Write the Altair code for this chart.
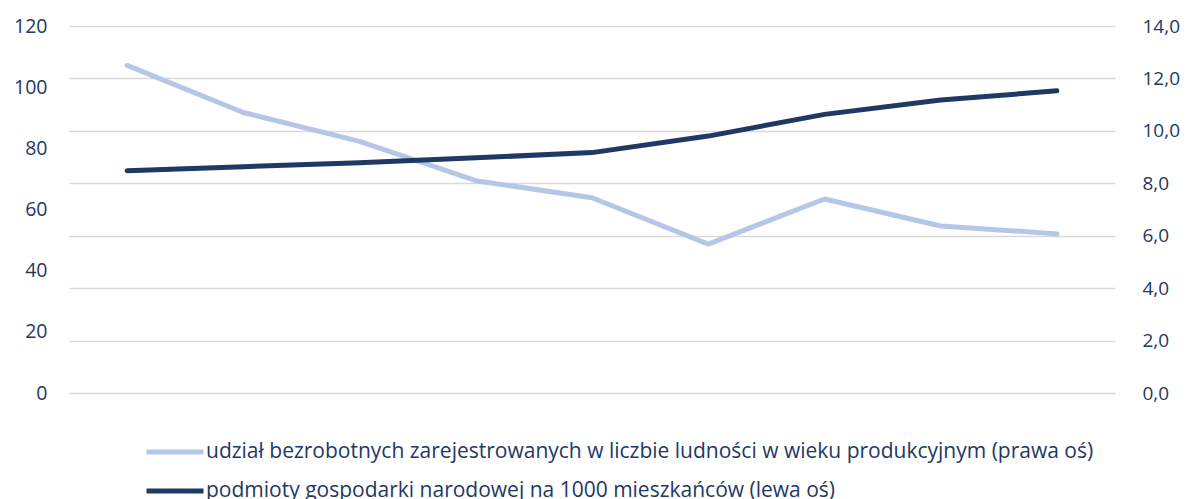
import altair as alt
import pandas as pd

categories = ["1", "2", "3", "4", "5", "6", "7", "8", "9"]
unemployed_share = [12.5, 10.7, 9.6, 8.1, 7.45, 5.68, 7.4, 6.37, 6.07]   # right axis
entities_per_1000 = [72.7, 74.0, 75.3, 76.9, 78.6, 84.0, 91.1, 95.8, 98.8]  # left axis

name_light = "udział bezrobotnych zarejestrowanych w liczbie ludności w wieku produkcyjnym (prawa oś)"
name_dark = "podmioty gospodarki narodowej na 1000 mieszkańców (lewa oś)"

left_ticks = [0, 20, 40, 60, 80, 100, 120]
right_ticks = [0, 2, 4, 6, 8, 10, 12, 14]

NAVY = "#1F3864"
LIGHT = "#B4C7E7"
FONT = "Open Sans"

df_light = pd.DataFrame({"cat": categories, "v": unemployed_share, "series": name_light})
df_dark = pd.DataFrame({"cat": categories, "v": entities_per_1000, "series": name_dark})


def legend_at(y):
    return alt.Legend(
        title=None,
        orient="none",
        legendX=75,
        legendY=y,
        symbolType="stroke",
        symbolSize=3249,
        symbolStrokeWidth=5,
        labelFont=FONT,
        labelFontSize=21,
        labelColor=NAVY,
        labelLimit=2000,
        labelOffset=0,
        padding=0,
    )


x = alt.X("cat:N", sort=categories, axis=None)

light = alt.Chart(df_light).mark_line(strokeWidth=5, strokeCap="round", strokeJoin="round").encode(
    x=x,
    y=alt.Y(
        "v:Q",
        scale=alt.Scale(domain=[0, 14], nice=False, zero=True),
        axis=alt.Axis(
            orient="right",
            values=right_ticks,
            title=None,
            domain=False,
            ticks=False,
            grid=True,
            gridColor="#D9D9D9",
            gridWidth=1.5,
            labelExpr="replace(format(datum.value, '.1f'), '.', ',')",
            labelFont=FONT,
            labelFontSize=19,
            labelColor=NAVY,
            labelPadding=27,
        ),
    ),
    color=alt.Color("series:N", scale=alt.Scale(domain=[name_light], range=[LIGHT]), legend=legend_at(395)),
)

dark = alt.Chart(df_dark).mark_line(strokeWidth=5, strokeCap="round", strokeJoin="round").encode(
    x=x,
    y=alt.Y(
        "v:Q",
        scale=alt.Scale(domain=[0, 120], nice=False, zero=True),
        axis=alt.Axis(
            orient="left",
            values=left_ticks,
            title=None,
            domain=False,
            ticks=False,
            grid=False,
            labelFont=FONT,
            labelFontSize=19.5,
            labelColor=NAVY,
            labelPadding=22,
        ),
    ),
    color=alt.Color("series:N", scale=alt.Scale(domain=[name_dark], range=[NAVY]), legend=legend_at(434)),
)

chart = (
    alt.layer(light, dark)
    .resolve_scale(y="independent", color="independent")
    .properties(
        width=1046,
        height=367,
        autosize=alt.AutoSizeParams(type="none"),
        padding={"left": 61, "top": 18, "right": 66, "bottom": 120},
        background="white",
    )
    .configure_view(strokeWidth=0, stroke=None)
    .configure_axis(domain=False)
)

chart.save("out.html", embed_options={"renderer": "svg", "actions": False})
